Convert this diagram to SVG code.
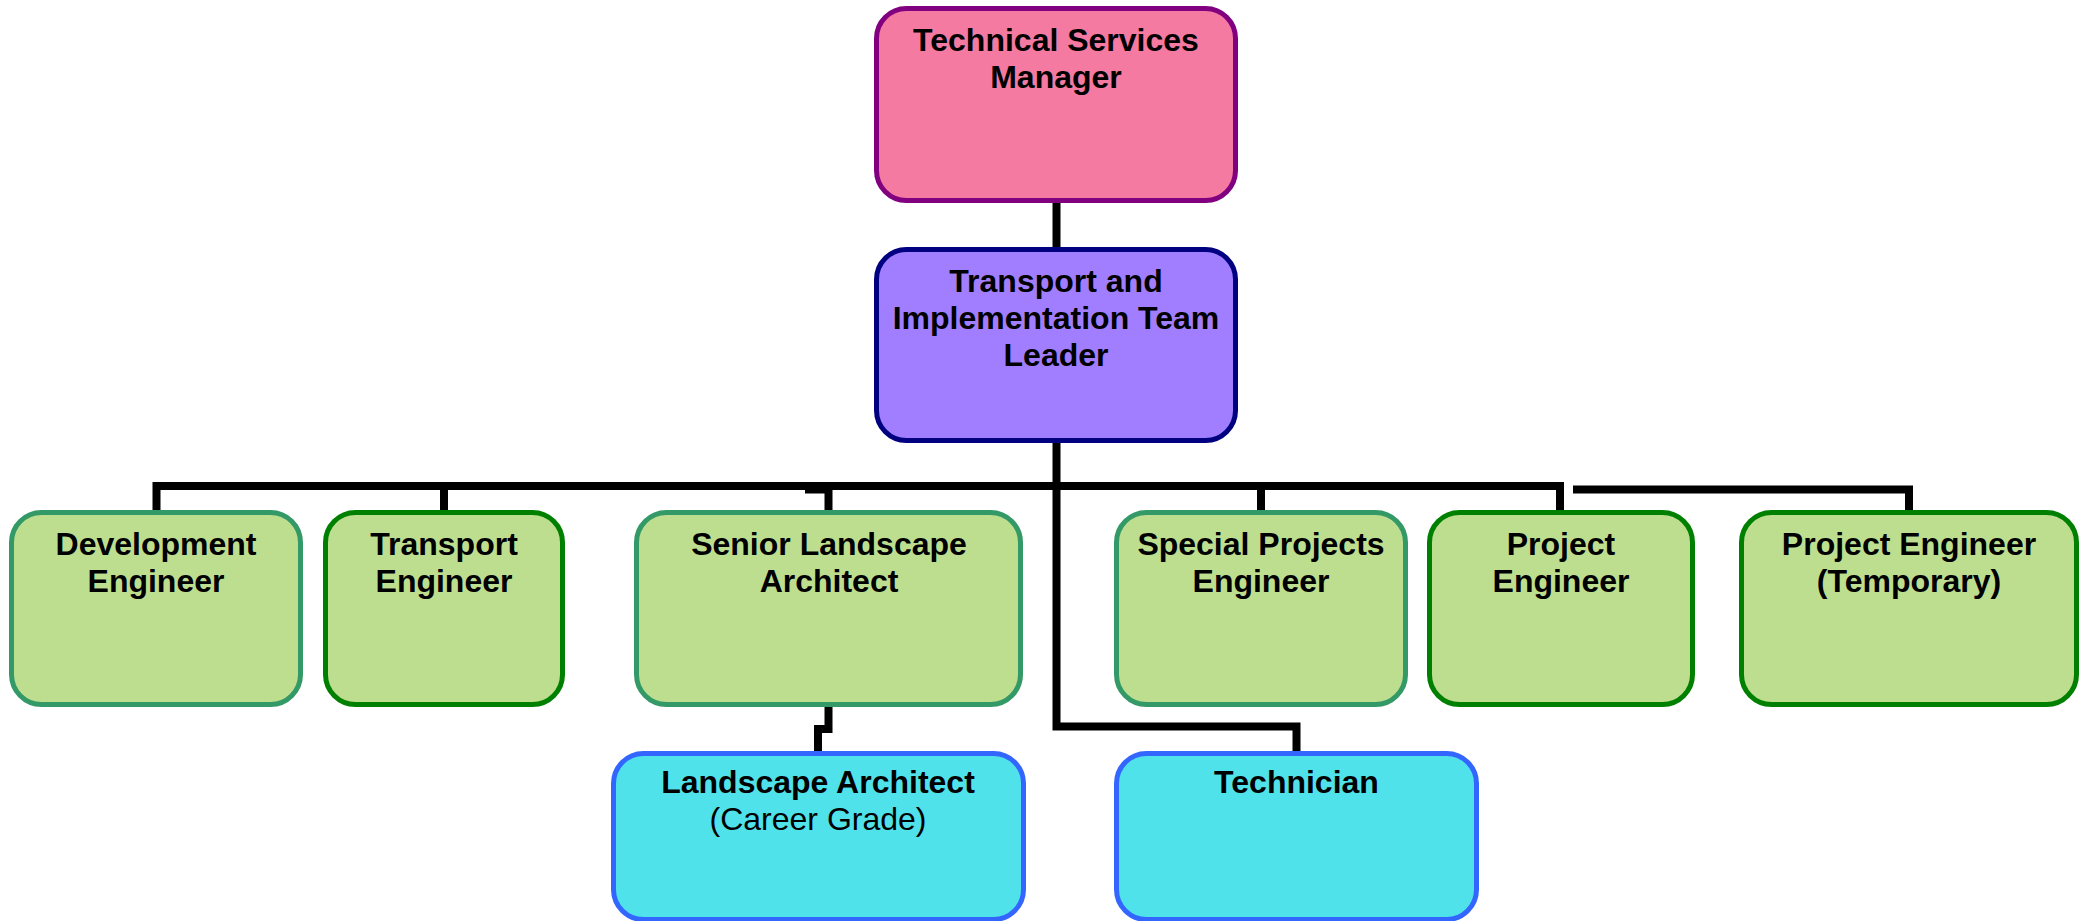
<svg xmlns="http://www.w3.org/2000/svg" width="2089" height="921" viewBox="0 0 2089 921">
<style>
  .box { stroke-width: 5; }
  .mgr { fill: #F57AA1; stroke: #800080; }
  .lead { fill: #A07EFF; stroke: #000080; }
  .g1 { fill: #BDDE8F; stroke: #339966; }
  .g2 { fill: #BDDE8F; stroke: #008000; }
  .cy { fill: #50E2EA; stroke: #3366FF; }
  text { font-family: "Liberation Sans", Arial, sans-serif; font-size: 32px; fill: #000; text-anchor: middle; }
  .b { font-weight: bold; }
  .conn path { fill: none; stroke: #000; stroke-width: 8; stroke-linejoin: miter; }
</style>
<g class="conn" id="connectors">
  <path d="M1056.5 201 V249"/>
  <path d="M1056.5 441 V726.5 H1296.5 V752"/>
  <path d="M156.5 512 V486 H1560 V512"/>
  <path d="M444 486 V512"/>
  <path d="M805 489.5 H828.5 V512"/>
  <path d="M1261 486 V512"/>
  <path d="M1573 489.5 H1909 V512"/>
  <path d="M828.5 705 V729 H818 V752"/>
</g>
<g id="node-tsm">
  <rect class="box mgr" x="876.5" y="8.5" width="359" height="192" rx="30"/>
  <text class="b" x="1056" y="51">Technical Services</text>
  <text class="b" x="1056" y="88">Manager</text>
</g>
<g id="node-tl">
  <rect class="box lead" x="876.5" y="249.5" width="359" height="191" rx="30"/>
  <text class="b" x="1056" y="292">Transport and</text>
  <text class="b" x="1056" y="329">Implementation Team</text>
  <text class="b" x="1056" y="366">Leader</text>
</g>
<g id="node-dev">
  <rect class="box g1" x="11.5" y="512.5" width="289" height="192" rx="30"/>
  <text class="b" x="156" y="555">Development</text>
  <text class="b" x="156" y="592">Engineer</text>
</g>
<g id="node-transport">
  <rect class="box g2" x="325.5" y="512.5" width="237" height="192" rx="30"/>
  <text class="b" x="444" y="555">Transport</text>
  <text class="b" x="444" y="592">Engineer</text>
</g>
<g id="node-senior">
  <rect class="box g1" x="636.5" y="512.5" width="384" height="192" rx="30"/>
  <text class="b" x="829" y="555">Senior Landscape</text>
  <text class="b" x="829" y="592">Architect</text>
</g>
<g id="node-special">
  <rect class="box g1" x="1116.5" y="512.5" width="289" height="192" rx="30"/>
  <text class="b" x="1261" y="555">Special Projects</text>
  <text class="b" x="1261" y="592">Engineer</text>
</g>
<g id="node-project">
  <rect class="box g2" x="1429.5" y="512.5" width="263" height="192" rx="30"/>
  <text class="b" x="1561" y="555">Project</text>
  <text class="b" x="1561" y="592">Engineer</text>
</g>
<g id="node-temp">
  <rect class="box g2" x="1741.5" y="512.5" width="335" height="192" rx="30"/>
  <text class="b" x="1909" y="555">Project Engineer</text>
  <text class="b" x="1909" y="592">(Temporary)</text>
</g>
<g id="node-landscape">
  <rect class="box cy" x="613.5" y="753.5" width="410" height="166" rx="30"/>
  <text class="b" x="818" y="793">Landscape Architect</text>
  <text x="818" y="830">(Career Grade)</text>
</g>
<g id="node-technician">
  <rect class="box cy" x="1116.5" y="753.5" width="360" height="166" rx="30"/>
  <text class="b" x="1296.5" y="793">Technician</text>
</g>
</svg>
